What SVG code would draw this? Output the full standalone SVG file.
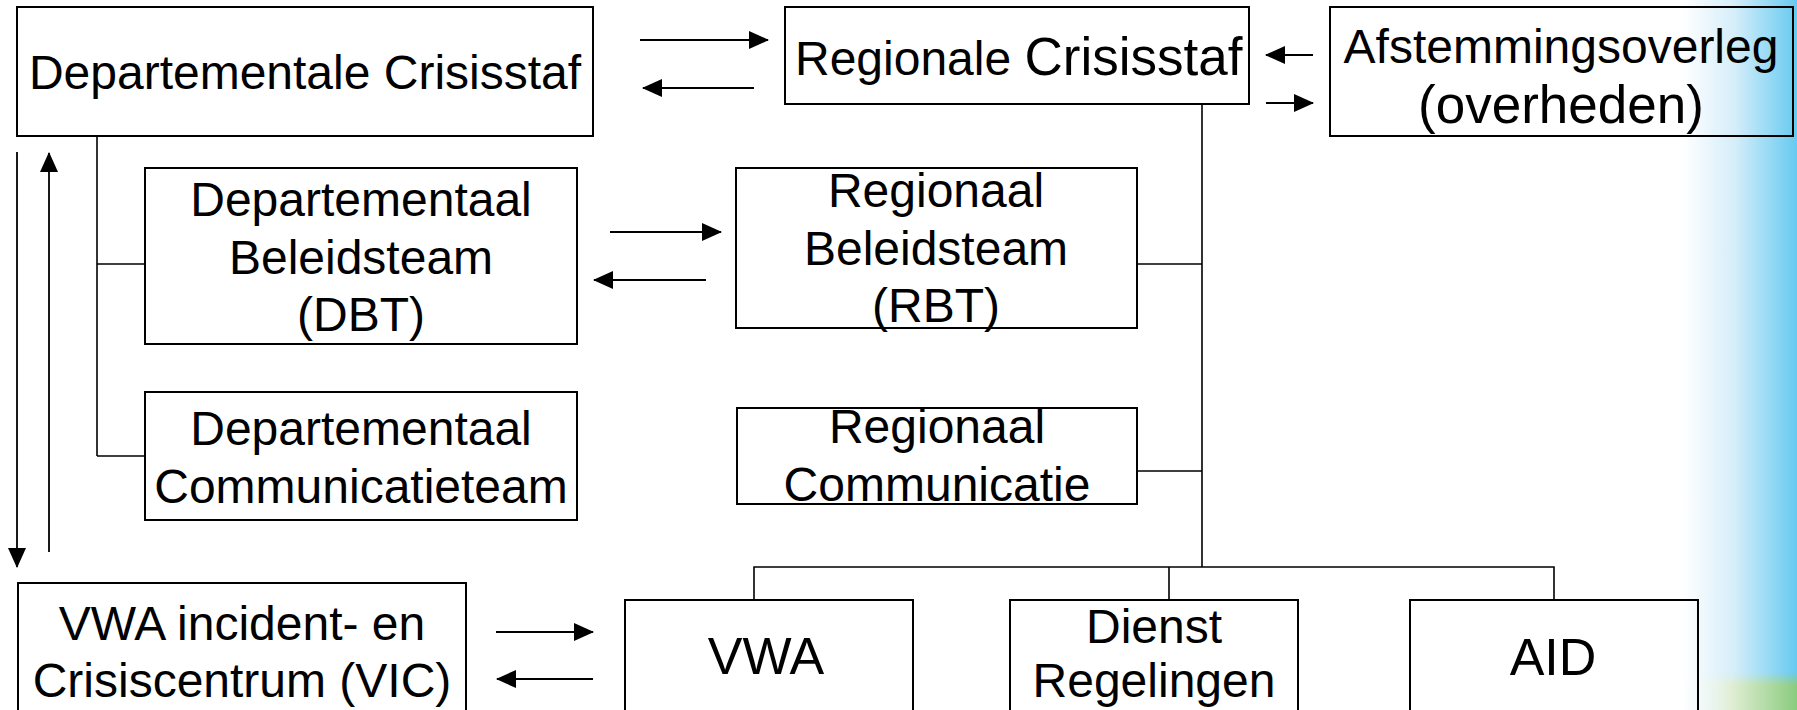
<svg xmlns="http://www.w3.org/2000/svg" width="1797" height="710" viewBox="0 0 1797 710">
<defs>
<style>
.box{fill:none;stroke:#000;stroke-width:2}
.t{font-family:"Liberation Sans",Arial,sans-serif;font-size:48px;fill:#000;text-anchor:middle}
.ln{fill:none;stroke:#000;stroke-width:1.6}
.ar{fill:none;stroke:#000;stroke-width:1.8;marker-end:url(#ah)}
</style>
<marker id="ah" markerUnits="userSpaceOnUse" markerWidth="20" markerHeight="18" refX="19" refY="9" orient="auto">
<path d="M0,0 L20,9 L0,18 Z" fill="#000"/>
</marker>
<linearGradient id="blue" gradientUnits="userSpaceOnUse" x1="1682" y1="0" x2="1797" y2="0">
<stop offset="0" stop-color="#ffffff"/>
<stop offset="0.45" stop-color="#d6eefa"/>
<stop offset="1" stop-color="#66caf0"/>
</linearGradient>
<linearGradient id="green" gradientUnits="userSpaceOnUse" x1="1685" y1="0" x2="1797" y2="0">
<stop offset="0" stop-color="#ffffff" stop-opacity="0"/>
<stop offset="0.4" stop-color="#e2efd6"/>
<stop offset="1" stop-color="#8acb7e"/>
</linearGradient>
<linearGradient id="gv" x1="0" y1="0" x2="0" y2="1">
<stop offset="0" stop-color="#fff" stop-opacity="0"/>
<stop offset="0.35" stop-color="#fff" stop-opacity="1"/>
</linearGradient>
<mask id="gm"><rect x="1680" y="672" width="117" height="38" fill="url(#gv)"/></mask>
</defs>
<rect x="0" y="0" width="1797" height="710" fill="#fff"/>
<rect x="1682" y="0" width="115" height="710" fill="url(#blue)"/>
<rect x="1680" y="672" width="117" height="38" fill="url(#green)" mask="url(#gm)"/>

<g id="connectors">
<path class="ln" d="M97,136 V456 M97,264 H145 M97,456 H145"/>
<path class="ln" d="M1202,104 V567 M1137,264 H1202 M1137,471 H1202 M754,600 V567 H1554 V600 M1169,567 V600"/>
<line class="ar" x1="640" y1="40" x2="768" y2="40"/>
<line class="ar" x1="754" y1="88" x2="643" y2="88"/>
<line class="ar" x1="1313" y1="55" x2="1266" y2="55"/>
<line class="ar" x1="1266" y1="103" x2="1313" y2="103"/>
<line class="ar" x1="610" y1="232" x2="721" y2="232"/>
<line class="ar" x1="706" y1="280" x2="594" y2="280"/>
<line class="ar" x1="17" y1="152" x2="17" y2="567"/>
<line class="ar" x1="49" y1="552" x2="49" y2="153"/>
<line class="ar" x1="496" y1="632" x2="593" y2="632"/>
<line class="ar" x1="593" y1="679" x2="497" y2="679"/>
</g>

<g id="dept-crisisstaf">
<rect class="box" x="17" y="7" width="576" height="129"/>
<text class="t" x="305" y="89">Departementale Crisisstaf</text>
</g>
<g id="regionale-crisisstaf">
<rect class="box" x="785" y="7" width="464" height="97"/>
<text class="t" x="795" y="75" style="text-anchor:start">Regionale <tspan style="font-size:53px">Crisisstaf</tspan></text>
</g>
<g id="afstemmingsoverleg">
<rect class="box" x="1330" y="7" width="463" height="129"/>
<text class="t" x="1561" y="63">Afstemmingsoverleg</text>
<text class="t" x="1561" y="123" style="font-size:53px">(overheden)</text>
</g>
<g id="dbt">
<rect class="box" x="145" y="168" width="432" height="176"/>
<text class="t" x="361" y="216">Departementaal</text>
<text class="t" x="361" y="273.5">Beleidsteam</text>
<text class="t" x="361" y="331">(DBT)</text>
</g>
<g id="rbt">
<rect class="box" x="736" y="168" width="401" height="160"/>
<text class="t" x="936" y="207">Regionaal</text>
<text class="t" x="936" y="265">Beleidsteam</text>
<text class="t" x="936" y="322">(RBT)</text>
</g>
<g id="dct">
<rect class="box" x="145" y="392" width="432" height="128"/>
<text class="t" x="361" y="445">Departementaal</text>
<text class="t" x="361" y="503">Communicatieteam</text>
</g>
<g id="rc">
<rect class="box" x="737" y="408" width="400" height="96"/>
<text class="t" x="937" y="443">Regionaal</text>
<text class="t" x="937" y="501">Communicatie</text>
</g>
<g id="vic">
<rect class="box" x="18" y="583" width="448" height="140"/>
<text class="t" x="242" y="640">VWA incident- en</text>
<text class="t" x="242" y="697">Crisiscentrum (VIC)</text>
</g>
<g id="vwa">
<rect class="box" x="625" y="600" width="288" height="130"/>
<text class="t" x="766" y="674" style="font-size:52px">VWA</text>
</g>
<g id="dienst">
<rect class="box" x="1010" y="600" width="288" height="130"/>
<text class="t" x="1154" y="643">Dienst</text>
<text class="t" x="1154" y="697">Regelingen</text>
</g>
<g id="aid">
<rect class="box" x="1410" y="600" width="288" height="130"/>
<text class="t" x="1553" y="675" style="font-size:52px">AID</text>
</g>
</svg>
